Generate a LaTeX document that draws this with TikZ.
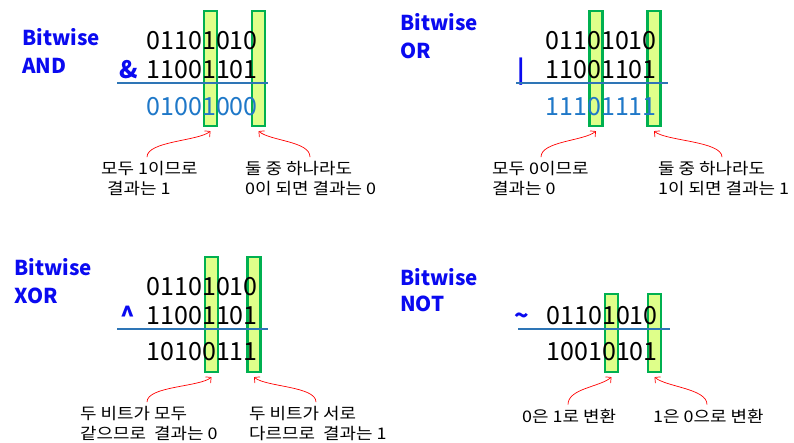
\documentclass[tikz,border=0pt]{standalone}
\usepackage{fontspec}
\setmainfont{Noto Sans CJK KR}
\newfontfamily\notefont[FakeStretch=1.12]{Noto Sans CJK KR}
\usetikzlibrary{arrows.meta}
\definecolor{titleblue}{RGB}{10,10,240}
\definecolor{resblue}{RGB}{31,120,200}
\definecolor{lineblue}{RGB}{46,117,182}
\definecolor{boxfill}{RGB}{223,255,138}
\definecolor{boxgreen}{RGB}{0,176,80}

\begin{document}
\begin{tikzpicture}[x=1pt,y=-1pt,
	title_text/.style={font=\fontsize{20.5}{28}\selectfont\bfseries,text=titleblue,anchor=base west,inner sep=0pt},
	op_text/.style={font=\fontsize{24}{24}\selectfont\bfseries,text=titleblue,anchor=base west,inner sep=0pt},
	bit_row/.style={font=\fontsize{25}{25}\selectfont,anchor=base west,inner sep=0pt},
	note_text/.style={font=\notefont\fontsize{16}{19.5}\selectfont,align=left,anchor=base west,inner sep=0pt},
	box_col/.style={draw=boxgreen,line width=2.2pt,fill=boxfill,minimum width=13pt,minimum height=115pt,inner sep=0pt},
	sum_line/.style={draw=lineblue,line width=1.1pt},
	red_arrow/.style={draw=red,line width=0.7pt,-{Straight Barb[length=4pt,width=8pt]}}]

	\useasboundingbox (0,0) rectangle (794,442);

	% AND
	\node[box_col] (ab1) at (210.5,68.5) {};
	\node[box_col] (ab2) at (258.5,68.5) {};
	\node[title_text] (at1) at (22,45) {Bitwise};
	\node[title_text] (at2) at (22,73) {AND};
	\node[bit_row] (ar1) at (146.5,49) {01101010};
	\node[op_text] (aop) at (119,78) {\&};
	\node[bit_row] (ar2) at (146.5,78) {11001101};
	\node[bit_row,text=resblue] (ar3) at (146.5,115) {01001000};
	\draw[sum_line] (117,83) -- (268,83);
	\node[note_text] (an1) at (101,194) {모두 1이므로\\\hspace{6pt}결과는 1};
	\node[note_text] (an2) at (245,194) {둘 중 하나라도\\0이 되면 결과는 0};
	\draw[red_arrow] ([xshift=46pt,yshift=4pt]an1.north west) .. controls +(0,-16) and +(-12,10) .. ([yshift=-4pt]ab1.south);
	\draw[red_arrow] ([xshift=65pt,yshift=4pt]an2.north west) .. controls +(0,-16) and +(12,10) .. ([yshift=-4pt]ab2.south);

	% OR
	\node[box_col] (ob1) at (596,68.5) {};
	\node[box_col] (ob2) at (654,68.5) {};
	\node[title_text] (ot1) at (400,30) {Bitwise};
	\node[title_text] (ot2) at (400,58) {OR};
	\node[bit_row] (or1) at (545.5,49) {01101010};
	\node[op_text] (oop) at (517,78) {|};
	\node[bit_row] (or2) at (545.5,78) {11001101};
	\node[bit_row,text=resblue] (or3) at (545.5,115) {11101111};
	\draw[sum_line] (516,83) -- (668,83);
	\node[note_text] (on1) at (492,194) {모두 0이므로\\결과는 0};
	\node[note_text] (on2) at (658,194) {둘 중 하나라도\\1이 되면 결과는 1};
	\draw[red_arrow] ([xshift=49pt,yshift=4pt]on1.north west) .. controls +(0,-16) and +(-12,10) .. ([yshift=-4pt]ob1.south);
	\draw[red_arrow] ([xshift=64pt,yshift=4pt]on2.north west) .. controls +(0,-16) and +(12,10) .. ([yshift=-4pt]ob2.south);

	% XOR
	\node[box_col] (xb1) at (211.5,314.5) {};
	\node[box_col] (xb2) at (254,314.5) {};
	\node[title_text] (xt1) at (14,275) {Bitwise};
	\node[title_text] (xt2) at (14,303) {XOR};
	\node[bit_row] (xr1) at (146.5,295) {01101010};
	\node[op_text] (xop) at (120,324) {\^{}};
	\node[bit_row] (xr2) at (146.5,324) {11001101};
	\node[bit_row] (xr3) at (146.5,360) {10100111};
	\draw[sum_line] (117,329) -- (268,329);
	\node[note_text] (xn1) at (80,439) {두 비트가 모두\\같으므로~~결과는 0};
	\node[note_text] (xn2) at (249,439) {두 비트가 서로\\다르므로~~결과는 1};
	\draw[red_arrow] ([xshift=67pt,yshift=4pt]xn1.north west) .. controls +(0,-16) and +(-12,10) .. ([yshift=-4pt]xb1.south);
	\draw[red_arrow] ([xshift=67pt,yshift=4pt]xn2.north west) .. controls +(0,-16) and +(12,10) .. ([yshift=-4pt]xb2.south);

	% NOT
	\node[box_col,minimum height=78pt] (nb1) at (611.5,333) {};
	\node[box_col,minimum height=78pt] (nb2) at (654.5,333) {};
	\node[title_text] (nt1) at (400,285) {Bitwise};
	\node[title_text] (nt2) at (400,311) {NOT};
	\node[op_text] (nop) at (514,324) {\char`\~};
	\node[bit_row] (nr1) at (546.5,324) {01101010};
	\node[bit_row] (nr2) at (546.5,360) {10010101};
	\draw[sum_line] (518,329) -- (670,329);
	\node[note_text] (nn1) at (522,422) {0은 1로 변환};
	\node[note_text] (nn2) at (653,422) {1은 0으로 변환};
	\draw[red_arrow] ([xshift=46pt,yshift=4pt]nn1.north west) .. controls +(0,-16) and +(-12,10) .. ([yshift=-4pt]nb1.south);
	\draw[red_arrow] ([xshift=54pt,yshift=4pt]nn2.north west) .. controls +(0,-16) and +(12,10) .. ([yshift=-4pt]nb2.south);
\end{tikzpicture}
\end{document}
